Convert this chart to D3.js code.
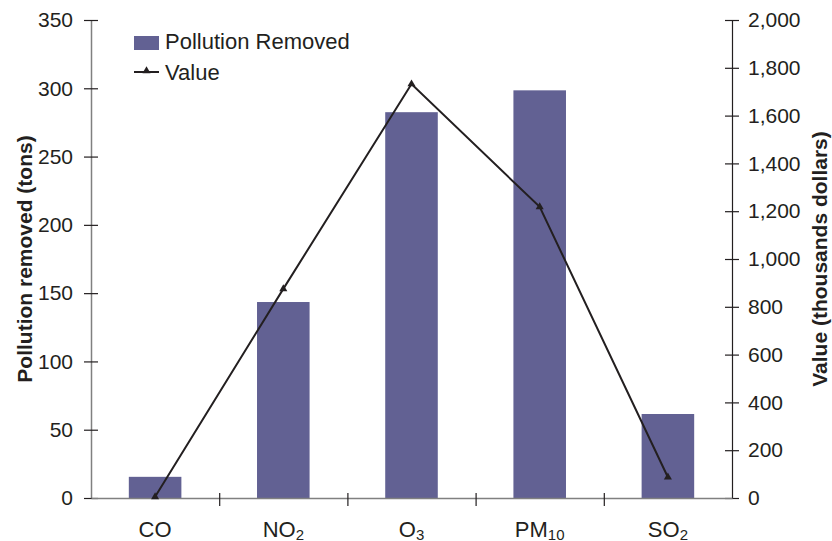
<!DOCTYPE html>
<html>
<head>
<meta charset="utf-8">
<script src="https://cdn.jsdelivr.net/npm/d3@7"></script>
<style>
  body { margin: 0; background: #fff; }
  text { font-family: "Liberation Sans", Arial, sans-serif; fill: #231f20; }
</style>
</head>
<body>
<div id="chart"></div>
<script>
// data
const categories = [["CO", ""], ["NO", "2"], ["O", "3"], ["PM", "10"], ["SO", "2"]]
const removed = [15.5, 143.5, 282.5, 298.5, 61.5]          // tons
const value = [5, 875, 1732, 1218, 87]                     // thousands dollars
const leftTicks = [0, 50, 100, 150, 200, 250, 300, 350]
const rightTicks = [0, 200, 400, 600, 800, 1000, 1200, 1400, 1600, 1800, 2000]

const W = 832, H = 541
const m = {top: 20, right: 100, bottom: 43, left: 91}
const plotW = W - m.left - m.right, plotH = H - m.top - m.bottom

const svg = d3.select("#chart").append("svg")
  .attr("width", W).attr("height", H)
const g = svg.append("g").attr("transform", `translate(${m.left},${m.top})`)

const x = d3.scaleBand().domain(d3.range(categories.length)).range([0, plotW]).paddingInner(0.59).paddingOuter(0.295)
const xEdge = d3.scaleLinear().domain([0, categories.length]).range([0, plotW])
const yL = d3.scaleLinear().domain([0, 350]).range([plotH, 0])
const yR = d3.scaleLinear().domain([0, 2000]).range([plotH, 0])

// bars
g.selectAll("rect.bar").data(removed).enter().append("rect")
  .attr("class", "bar")
  .attr("x", (d, i) => x(i))
  .attr("width", x.bandwidth())
  .attr("y", d => yL(d))
  .attr("height", d => plotH - yL(d))
  .attr("fill", "#626193")

// left axis
const leftAxis = g.append("g")
  .call(d3.axisLeft(yL).tickValues(leftTicks).tickSize(0).tickPadding(18))
leftAxis.select(".domain").attr("stroke", "#808080").attr("stroke-width", 1.5)
leftAxis.selectAll(".tick line").attr("x1", -7).attr("x2", 7).attr("stroke", "#231f20").attr("stroke-width", 1.2)
leftAxis.selectAll(".tick text").attr("font-size", 21).attr("fill", "#231f20")

// right axis
const rightAxis = g.append("g").attr("transform", `translate(${plotW},0)`)
  .call(d3.axisRight(yR).tickValues(rightTicks).tickSize(0).tickPadding(16).tickFormat(d3.format(",")))
rightAxis.select(".domain").attr("stroke", "#231f20").attr("stroke-width", 1.2)
rightAxis.selectAll(".tick line").attr("x1", -7).attr("x2", 7).attr("stroke", "#231f20").attr("stroke-width", 1.2)
rightAxis.selectAll(".tick text").attr("font-size", 21).attr("fill", "#231f20")

// bottom axis (category separators)
const bottomAxis = g.append("g").attr("transform", `translate(0,${plotH})`)
  .call(d3.axisBottom(xEdge).tickValues([1, 2, 3, 4]).tickSize(0).tickFormat(""))
bottomAxis.select(".domain").attr("stroke", "#808080").attr("stroke-width", 1.5)
bottomAxis.selectAll(".tick line").attr("y1", -5).attr("y2", 8).attr("stroke", "#231f20").attr("stroke-width", 1.2)

// category labels with subscripts
const labels = g.selectAll("text.cat").data(categories).enter().append("text")
  .attr("class", "cat")
  .attr("x", (d, i) => x(i) + x.bandwidth() / 2)
  .attr("y", plotH + 39)
  .attr("text-anchor", "middle")
  .attr("font-size", 22)
labels.append("tspan").text(d => d[0])
labels.append("tspan").attr("font-size", 15).attr("dy", 2.5).text(d => d[1])

// value line
const line = d3.line().x((d, i) => x(i) + x.bandwidth() / 2).y(d => yR(d))
g.append("path").datum(value)
  .attr("d", line).attr("fill", "none")
  .attr("stroke", "#231f20").attr("stroke-width", 2)
const tri = d3.symbol().type(d3.symbolTriangle).size(28)
g.selectAll("path.mk").data(value).enter().append("path")
  .attr("class", "mk")
  .attr("d", tri)
  .attr("transform", (d, i) => `translate(${x(i) + x.bandwidth() / 2},${yR(d)})`)
  .attr("fill", "#231f20")

// axis titles
svg.append("text")
  .attr("transform", `translate(32,${m.top + plotH / 2}) rotate(-90)`)
  .attr("text-anchor", "middle").attr("font-size", 21).attr("font-weight", "bold")
  .text("Pollution removed (tons)")
svg.append("text")
  .attr("transform", `translate(827,${m.top + plotH / 2}) rotate(-90)`)
  .attr("text-anchor", "middle").attr("font-size", 21).attr("font-weight", "bold")
  .text("Value (thousands dollars)")

// legend
const lg = svg.append("g").attr("transform", "translate(134,36)")
lg.append("rect").attr("width", 25).attr("height", 14).attr("fill", "#626193")
lg.append("text").attr("x", 31).attr("y", 13).attr("font-size", 22).text("Pollution Removed")
lg.append("line").attr("x1", 0).attr("x2", 25).attr("y1", 36).attr("y2", 36)
  .attr("stroke", "#231f20").attr("stroke-width", 2)
lg.append("path").attr("d", tri).attr("transform", "translate(12.5,35)").attr("fill", "#231f20")
lg.append("text").attr("x", 31).attr("y", 44).attr("font-size", 22).text("Value")
</script>
</body>
</html>
